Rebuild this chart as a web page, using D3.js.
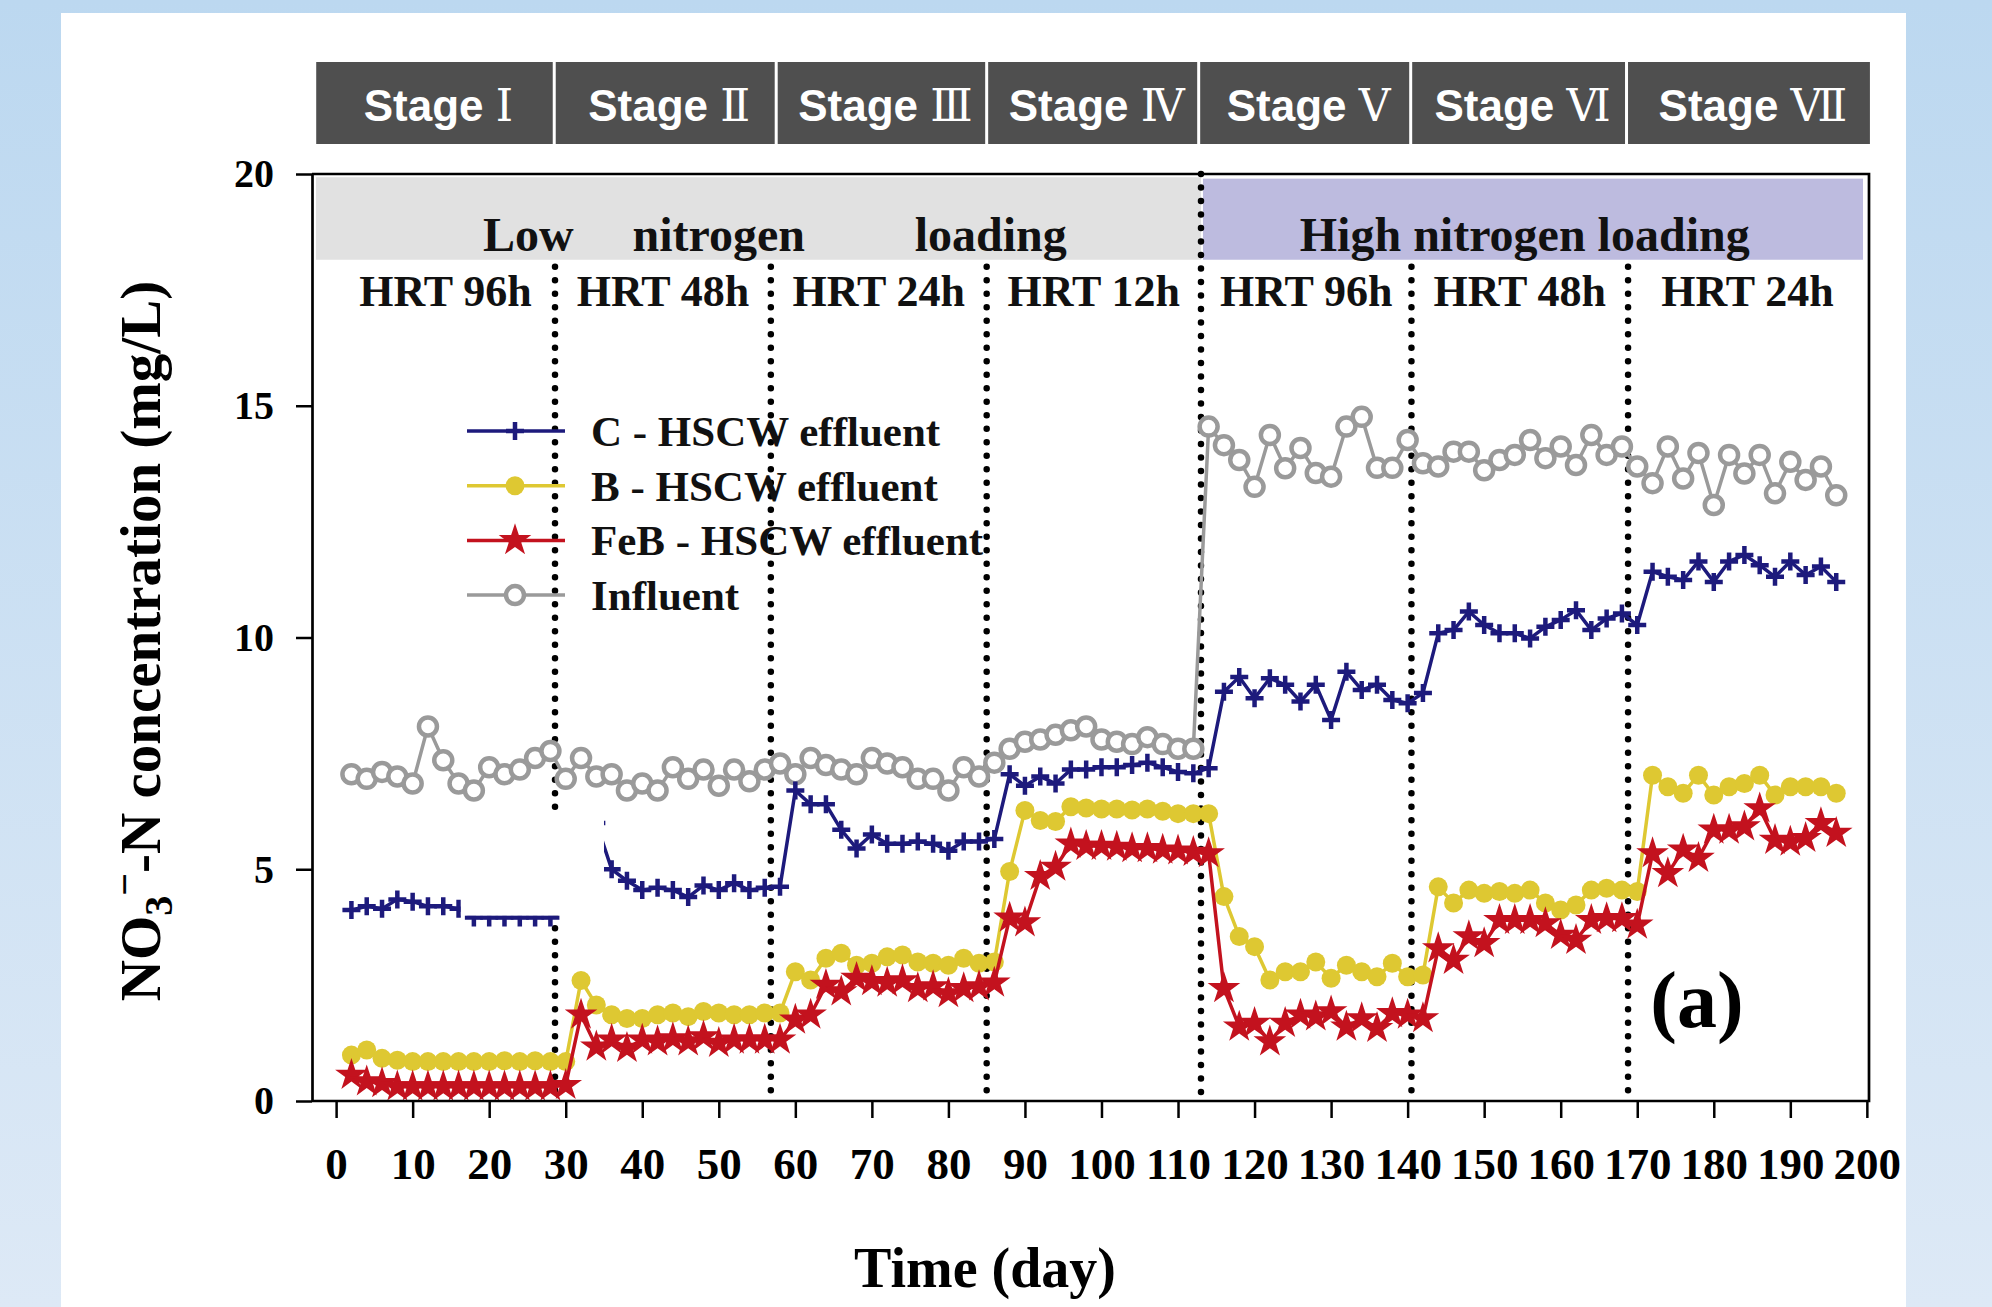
<!DOCTYPE html>
<html>
<head>
<meta charset="utf-8">
<script src="https://cdn.jsdelivr.net/npm/d3@7"></script>
<style>
  html, body { margin: 0; padding: 0; background: #fff; }
  svg { display: block; }
</style>
</head>
<body>
<div id="chart"></div>
<script>
// sampling days (every second day)
const days = [2,4,6,8,10,12,14,16,18,20,22,24,26,28,
  30,32,34,36,38,40,42,44,46,48,50,52,54,56,
  58,60,62,64,66,68,70,72,74,76,78,80,82,84,
  86,88,90,92,94,96,98,100,102,104,106,108,110,112,
  114,116,118,120,122,124,126,128,130,132,134,136,138,140,
  142,144,146,148,150,152,154,156,158,160,162,164,166,168,
  170,172,174,176,178,180,182,184,186,188,190,192,194,196];

const influent = [7.05,6.95,7.1,7.0,6.85,8.08,7.35,6.85,6.7,7.2,7.05,7.15,7.4,7.55,
  6.95,7.4,7.0,7.05,6.7,6.85,6.7,7.2,6.95,7.15,6.8,7.15,6.9,7.15,
  7.28,7.05,7.4,7.25,7.15,7.05,7.4,7.28,7.2,6.95,6.95,6.7,7.2,7.0,
  7.3,7.6,7.75,7.8,7.9,8.0,8.08,7.8,7.75,7.7,7.85,7.7,7.6,7.6,
  14.55,14.15,13.83,13.25,14.37,13.65,14.09,13.55,13.47,14.55,14.76,13.66,13.66,14.26,
  13.76,13.69,14.01,14.01,13.61,13.83,13.94,14.26,13.87,14.12,13.72,14.37,13.94,14.12,
  13.69,13.33,14.12,13.43,13.98,12.86,13.94,13.54,13.94,13.11,13.79,13.4,13.69,13.07];

const cEffluent = [4.12,4.2,4.15,4.35,4.3,4.2,4.2,4.15,3.96,3.96,3.96,3.96,3.96,3.96,
  5.9,5.95,6.0,5.0,4.75,4.55,4.6,4.55,4.4,4.65,4.55,4.7,4.55,4.6,
  4.62,6.7,6.4,6.4,5.85,5.45,5.75,5.55,5.55,5.6,5.55,5.4,5.6,5.6,
  5.65,7.05,6.8,7.0,6.85,7.15,7.15,7.2,7.2,7.25,7.3,7.2,7.1,7.07,
  7.18,8.83,9.15,8.69,9.12,8.98,8.62,8.98,8.22,9.26,8.87,8.98,8.65,8.58,
  8.8,10.09,10.16,10.56,10.27,10.09,10.09,9.98,10.23,10.38,10.59,10.16,10.41,10.52,
  10.27,11.42,11.31,11.24,11.64,11.2,11.64,11.78,11.56,11.31,11.64,11.35,11.53,11.2];

const bEffluent = [0.99,1.1,0.92,0.88,0.85,0.85,0.85,0.85,0.85,0.85,0.87,0.85,0.87,0.85,
  0.85,2.6,2.07,1.86,1.78,1.78,1.86,1.9,1.82,1.93,1.9,1.86,1.86,1.9,
  1.9,2.79,2.61,3.08,3.19,2.93,2.97,3.11,3.15,3.0,2.97,2.93,3.08,2.97,
  3.0,4.95,6.27,6.05,6.03,6.35,6.32,6.3,6.3,6.28,6.3,6.25,6.2,6.2,
  6.2,4.41,3.55,3.33,2.61,2.79,2.79,3.0,2.65,2.93,2.79,2.68,2.97,2.68,
  2.72,4.62,4.27,4.55,4.48,4.52,4.48,4.55,4.27,4.12,4.23,4.55,4.59,4.55,
  4.52,7.03,6.78,6.64,7.03,6.6,6.78,6.85,7.03,6.6,6.78,6.78,6.78,6.64];

const febEffluent = [0.56,0.42,0.38,0.31,0.31,0.31,0.31,0.31,0.31,0.31,0.31,0.31,0.31,0.31,
  0.34,1.86,1.17,1.32,1.14,1.32,1.28,1.35,1.28,1.39,1.25,1.32,1.32,1.32,
  1.32,1.75,1.86,2.5,2.36,2.65,2.58,2.55,2.6,2.43,2.47,2.32,2.43,2.47,
  2.55,3.95,3.85,4.85,5.05,5.55,5.5,5.5,5.48,5.45,5.45,5.42,5.4,5.37,
  5.34,2.43,1.6,1.68,1.28,1.68,1.86,1.82,1.93,1.6,1.78,1.57,1.89,1.86,
  1.78,3.29,3.04,3.55,3.4,3.9,3.9,3.9,3.83,3.58,3.47,3.9,3.94,3.94,
  3.8,5.34,4.91,5.42,5.24,5.85,5.85,5.92,6.31,5.63,5.59,5.67,5.99,5.78];

const seriesNames = ['C - HSCW effluent', 'B - HSCW effluent', 'FeB - HSCW effluent', 'Influent'];

// stage boundaries (day) of the dotted separators, and of the banner cells
const stageEdges = [28.6, 56.8, 85, 113, 140.5, 168.8];
const bannerEdges = [-2.6, 28.5, 57.5, 85, 112.7, 140.4, 168.6, 200.4];
const stageNumerals = ['\u2160','\u2161','\u2162','\u2163','\u2164','\u2165','\u2166'];
const hrtLabels = ['HRT 96h','HRT 48h','HRT 24h','HRT 12h','HRT 96h','HRT 48h','HRT 24h'];
const xTicks = d3.range(0, 201, 10);
const yTicks = [0, 5, 10, 15, 20];
// white patch present in the original figure (days, mg/L)
const patchDays = [16.3, 35];
const patchValues = [4.0, 6.2];

const W = 1992, H = 1307;
const svg = d3.select('#chart').append('svg').attr('width', W).attr('height', H);

// page background
const defs = svg.append('defs');
const grad = defs.append('linearGradient').attr('id', 'bg')
  .attr('x1', 0).attr('y1', 0).attr('x2', 0).attr('y2', 1);
grad.append('stop').attr('offset', '0%').attr('stop-color', '#bcd8f0');
grad.append('stop').attr('offset', '100%').attr('stop-color', '#dde9f6');
svg.append('rect').attr('width', W).attr('height', H).attr('fill', 'url(#bg)');
svg.append('rect').attr('x', 61).attr('y', 13).attr('width', 1845).attr('height', H - 13).attr('fill', '#fff');

const plotL = 312, plotR = 1868, plotT = 174, plotB = 1101;
const x = d3.scaleLinear().domain([-3.15, 200.15]).range([plotL, plotR]);
const y = d3.scaleLinear().domain([0, 20]).range([plotB, plotT]);

const serif = '"Liberation Serif", "Times New Roman", serif';
const sans = '"Liberation Sans", Arial, sans-serif';

// stage banner
const banner = svg.append('g');
for (let i = 0; i < 7; i++) {
  const x0 = x(bannerEdges[i]) + (i ? 1.5 : 0), x1 = x(bannerEdges[i + 1]) - (i < 6 ? 1.5 : 0);
  banner.append('rect').attr('x', x0).attr('y', 62).attr('width', x1 - x0).attr('height', 82)
    .attr('fill', '#4f4f4f');
  const t = banner.append('text').attr('x', (x0 + x1) / 2 + 4).attr('y', 121)
    .attr('text-anchor', 'middle').attr('fill', '#fff');
  t.append('tspan').attr('font-family', sans).attr('font-weight', 'bold').attr('font-size', 44).text('Stage ');
  t.append('tspan').attr('font-family', '"DejaVu Serif", "Liberation Serif", serif')
    .attr('font-size', 44).text(stageNumerals[i]);
}

// loading bands
const g = svg.append('g');
g.append('rect').attr('x', plotL + 4).attr('y', y(19.93)).attr('width', x(stageEdges[3]) - plotL - 4)
  .attr('height', y(18.15) - y(19.93)).attr('fill', '#e1e1e1');
g.append('rect').attr('x', x(stageEdges[3]) + 2).attr('y', y(19.9))
  .attr('width', plotR - 5 - x(stageEdges[3]) - 2).attr('height', y(18.15) - y(19.9)).attr('fill', '#bdbbdf');

const bandText = (txt, d, anchor) => g.append('text').attr('x', x(d)).attr('y', y(18.15) - 9)
  .attr('text-anchor', anchor).attr('font-family', serif).attr('font-weight', 'bold')
  .attr('font-size', 48).attr('fill', '#111').text(txt);
bandText('Low', 19.2, 'start');
bandText('nitrogen', 50, 'middle');
bandText('loading', 75.6, 'start');
bandText('High nitrogen loading', 155.3, 'middle');

// HRT labels
const hrtEdges = [0].concat(stageEdges, [200]);
hrtLabels.forEach((h, i) => {
  g.append('text').attr('x', x((hrtEdges[i] + hrtEdges[i + 1]) / 2)).attr('y', y(17.15))
    .attr('text-anchor', 'middle').attr('font-family', serif).attr('font-weight', 'bold')
    .attr('font-size', 44).attr('fill', '#111').text(h);
});

// dotted stage separators
stageEdges.forEach((d, i) => {
  const yTop = i === 3 ? 20 : 18.0;
  g.append('line').attr('x1', x(d)).attr('x2', x(d)).attr('y1', y(yTop)).attr('y2', y(0))
    .attr('stroke', '#000').attr('stroke-width', 6.5).attr('stroke-linecap', 'round')
    .attr('stroke-dasharray', '0 13.5');
});

// series
const series = [
  {name: seriesNames[3], values: influent, color: '#9a9a9a', marker: 'ring'},
  {name: seriesNames[0], values: cEffluent, color: '#1d1a7c', marker: 'cross'},
  {name: seriesNames[1], values: bEffluent, color: '#dec832', marker: 'dot'},
  {name: seriesNames[2], values: febEffluent, color: '#c3121e', marker: 'star'}
];

const line = d3.line().x(d => x(d[0])).y(d => y(d[1]));
const starPath = d3.symbol(d3.symbolStar, 330)();

function drawMarker(sel, s) {
  if (s.marker === 'ring') {
    sel.append('circle').attr('r', 9).attr('fill', '#fff').attr('stroke', s.color).attr('stroke-width', 4.5);
  } else if (s.marker === 'dot') {
    sel.append('circle').attr('r', 9.5).attr('fill', s.color);
  } else if (s.marker === 'cross') {
    sel.append('path').attr('d', 'M-9,0H9M0,-9V9').attr('stroke', s.color).attr('stroke-width', 4.5);
  } else {
    sel.append('path').attr('d', starPath).attr('fill', s.color);
  }
}

series.forEach(s => {
  const pts = days.map((d, i) => [d, s.values[i]]);
  const sg = g.append('g');
  sg.append('path').datum(pts).attr('d', line).attr('fill', 'none')
    .attr('stroke', s.color).attr('stroke-width', 3.5).attr('stroke-linejoin', 'round');
  sg.selectAll('g.pt').data(pts).join('g').attr('class', 'pt')
    .attr('transform', d => `translate(${x(d[0])},${y(d[1])})`)
    .each(function() { drawMarker(d3.select(this), s); });
});

// white patch present in the source figure
g.append('rect').attr('x', x(patchDays[0])).attr('y', y(patchValues[1]))
  .attr('width', x(patchDays[1]) - x(patchDays[0])).attr('height', y(patchValues[0]) - y(patchValues[1]))
  .attr('fill', '#fff');

// axes
const xAxis = svg.append('g').attr('transform', `translate(0,${plotB})`)
  .call(d3.axisBottom(x).tickValues(xTicks).tickSize(17).tickSizeOuter(0).tickPadding(29));
xAxis.select('.domain').remove();
xAxis.selectAll('line').attr('stroke', '#000').attr('stroke-width', 2.5);
xAxis.selectAll('text').attr('font-family', serif).attr('font-weight', 'bold')
  .attr('font-size', 45).attr('fill', '#000');

const yAxis = svg.append('g').attr('transform', `translate(${plotL},0)`)
  .call(d3.axisLeft(y).tickValues(yTicks).tickSize(16).tickSizeOuter(0).tickPadding(22));
yAxis.select('.domain').attr('stroke', '#000').attr('stroke-width', 2.7);
yAxis.selectAll('line').attr('stroke', '#000').attr('stroke-width', 2.5);
yAxis.selectAll('text').attr('font-family', serif).attr('font-weight', 'bold')
  .attr('font-size', 40).attr('fill', '#000');

// frame
svg.append('path').attr('d', `M${plotL},${plotB}H${plotR + 1}V${plotT}H${plotL}`)
  .attr('fill', 'none').attr('stroke', '#000').attr('stroke-width', 2.7);

// legend
const legend = svg.append('g').attr('transform', 'translate(467,431)');
[1, 2, 3, 0].forEach((si, i) => {
  const s = series[si];
  const row = legend.append('g').attr('transform', `translate(0,${i * 54.7})`);
  row.append('line').attr('x1', 0).attr('x2', 98).attr('stroke', s.color).attr('stroke-width', 3.5);
  drawMarker(row.append('g').attr('transform', 'translate(48,0)'), s);
  row.append('text').attr('x', 124).attr('dy', '0.35em').attr('font-family', serif)
    .attr('font-weight', 'bold').attr('font-size', 43).attr('fill', '#111').text(s.name);
});

// panel label
svg.append('text').attr('x', x(177.8)).attr('y', y(1.6)).attr('text-anchor', 'middle')
  .attr('font-family', serif).attr('font-weight', 'bold').attr('font-size', 80).text('(a)');

// axis titles
svg.append('text').attr('x', 985).attr('y', 1287).attr('text-anchor', 'middle')
  .attr('font-family', serif).attr('font-weight', 'bold').attr('font-size', 56).text('Time (day)');

const yt = svg.append('text').attr('transform', 'translate(160,641) rotate(-90)')
  .attr('text-anchor', 'middle').attr('font-family', serif).attr('font-weight', 'bold')
  .attr('font-size', 57);
yt.append('tspan').text('NO');
yt.append('tspan').attr('font-size', 40).attr('dy', 12).text('3');
yt.append('tspan').attr('font-size', 40).attr('dy', -34).text('\u2212');
yt.append('tspan').attr('dy', 22).text('-N concentration (mg/L)');
</script>
</body>
</html>
